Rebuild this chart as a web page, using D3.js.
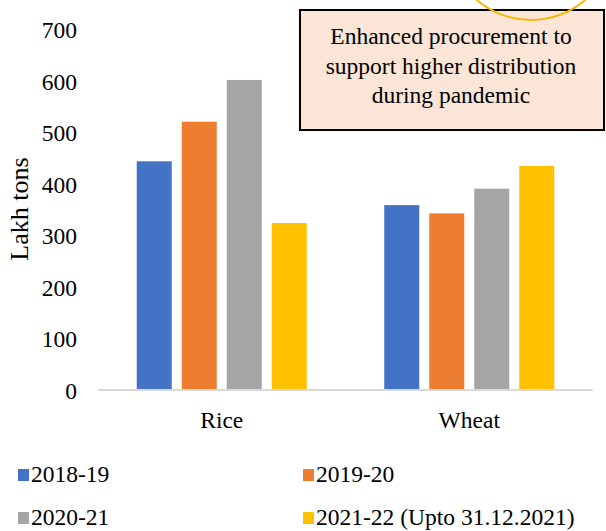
<!DOCTYPE html>
<html>
<head>
<meta charset="utf-8">
<script src="https://cdn.jsdelivr.net/npm/d3@7"></script>
<style>
  html, body { margin: 0; padding: 0; background: #fff; }
  svg { display: block; }
  text { font-family: "Liberation Serif", "Times New Roman", serif; fill: #000; }
</style>
</head>
<body>
<svg id="chart" width="606" height="531"></svg>
<script>
const categories = ["Rice", "Wheat"];
const seriesNames = ["2018-19", "2019-20", "2020-21", "2021-22 (Upto 31.12.2021)"];
const seriesColors = ["#4472c4", "#ed7d31", "#a5a5a5", "#ffc000"];
const riceValues = [444, 521, 602, 324];
const wheatValues = [359, 343, 391, 435];
const yTicks = [0, 100, 200, 300, 400, 500, 600, 700];
const yTitle = "Lakh tons";
const noteLines = ["Enhanced procurement to", "support higher distribution", "during pandemic"];

const values = { "Rice": riceValues, "Wheat": wheatValues };
const data = categories.map(c => ({ cat: c, vals: seriesNames.map((s, i) => ({ s, i, v: values[c][i] })) }));

const svg = d3.select("#chart");

const x0 = d3.scaleBand().domain(categories).range([98, 593]).paddingInner(0).paddingOuter(0);
const x1 = d3.scaleBand().domain(seriesNames).range([0, x0.bandwidth()]).paddingInner(0.222).paddingOuter(0.861);
const y = d3.scaleLinear().domain([0, 700]).range([390, 29.5]);

// bars
const g = svg.append("g");
g.selectAll("g.grp").data(data).join("g")
  .attr("class", "grp")
  .attr("transform", d => `translate(${x0(d.cat)},0)`)
  .selectAll("rect").data(d => d.vals).join("rect")
  .attr("x", d => x1(d.s))
  .attr("width", x1.bandwidth())
  .attr("y", d => y(d.v))
  .attr("height", d => y(0) - y(d.v))
  .attr("fill", d => seriesColors[d.i]);

// x axis line
const xAxis = d3.axisBottom(x0).tickSize(0).tickPadding(0);
const xg = svg.append("g").attr("transform", `translate(0,${y(0)})`).call(xAxis);
xg.select(".domain").attr("stroke", "#d9d9d9").attr("stroke-width", 2).attr("d", "M98,0H593");
xg.selectAll(".tick text").attr("font-size", "23.5px").attr("dy", null).attr("y", 38)
  .style("font-family", '"Liberation Serif", serif').attr("fill", "#000");

// y axis labels
const yAxis = d3.axisLeft(y).tickValues(yTicks).tickSize(0).tickPadding(0).tickFormat(d3.format("d"));
const yg = svg.append("g").attr("transform", "translate(77,0)").call(yAxis);
yg.select(".domain").remove();
yg.selectAll(".tick text").attr("font-size", "23.5px").attr("dy", "0.35em").attr("x", 0)
  .style("font-family", '"Liberation Serif", serif').attr("fill", "#000");

// y title
svg.append("text")
  .attr("transform", "translate(28,209) rotate(-90)")
  .attr("text-anchor", "middle")
  .attr("font-size", "26px")
  .text(yTitle);

// annotation box
svg.append("rect")
  .attr("x", 300).attr("y", 10).attr("width", 304).attr("height", 120)
  .attr("fill", "#fbe5d6").attr("stroke", "#000").attr("stroke-width", 2);
svg.append("text")
  .attr("text-anchor", "middle")
  .attr("font-size", "23.5px")
  .selectAll("tspan").data(noteLines).join("tspan")
  .attr("x", 451)
  .attr("y", (d, i) => 44 + i * 29.5)
  .text(d => d);

// decorative arc at top
svg.append("circle")
  .attr("cx", 531).attr("cy", -63).attr("r", 83)
  .attr("fill", "none").attr("stroke", "#f5b800").attr("stroke-width", 2);

// legend
const legendPos = [[18, 469], [303, 469], [18, 512], [303, 512]];
const lg = svg.append("g").selectAll("g").data(seriesNames).join("g")
  .attr("transform", (d, i) => `translate(${legendPos[i][0]},${legendPos[i][1]})`);
lg.append("rect").attr("width", 11).attr("height", 12).attr("fill", (d, i) => seriesColors[i]);
lg.append("text").attr("x", 13).attr("y", 13).attr("font-size", "23.5px").text(d => d);
</script>
</body>
</html>
